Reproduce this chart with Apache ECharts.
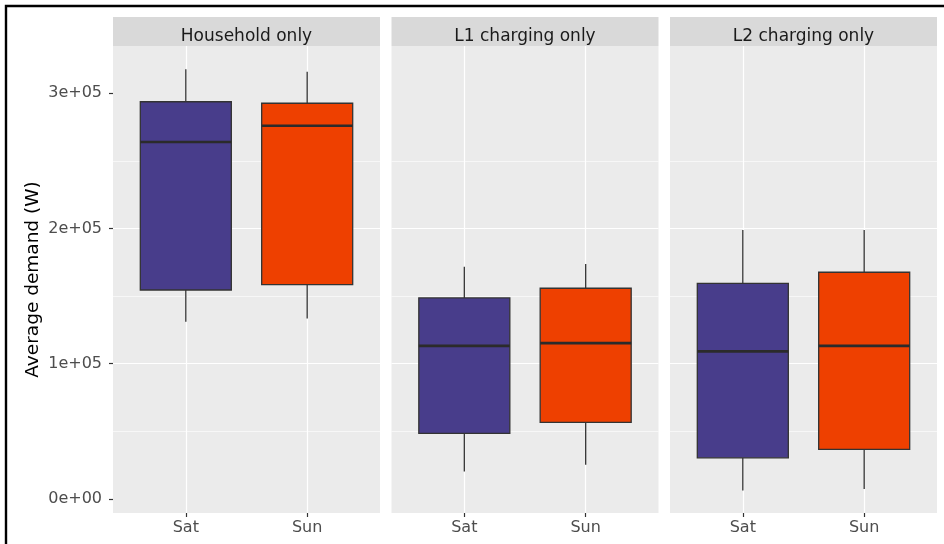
<!DOCTYPE html>
<html><head><meta charset="utf-8">
<script src="https://cdn.jsdelivr.net/npm/echarts@6/dist/echarts.min.js"></script>
<style>html,body{margin:0;padding:0;background:#fff}#c{width:944px;height:544px}</style>
</head><body><div id="c"></div>
<script>
const facets = ['Household only', 'L1 charging only', 'L2 charging only'];
const days = ['Sat', 'Sun'];
// [lower whisker, Q1, median, Q3, upper whisker]
const householdStats = [[131000, 154500, 263900, 293600, 317600], [133500, 158400, 275900, 292500, 315800]];
const l1Stats = [[20300, 48500, 113200, 148600, 171700], [25400, 56700, 115200, 155800, 173700]];
const l2Stats = [[6400, 30500, 109100, 159400, 198900], [7400, 36700, 113200, 167600, 198900]];
const yTickValues = [0, 100000, 200000, 300000];
const yTickLabels = ['0e+00', '1e+05', '2e+05', '3e+05'];
const dayColors = ['#483D8B', '#EE4000'];
const statsByFacet = [householdStats, l1Stats, l2Stats];

const FONT = 'DejaVu Sans';
const yMin = -10300, yMax = 334800;
const panelLefts = [113, 391.5, 670];
const panelWidth = 267;
const panelTop = 46, panelBottom = 513, stripTop = 17;

function renderBox(params, api) {
  const x = api.value(0);
  const lo = api.coord([x, api.value(1)]);
  const q1 = api.coord([x, api.value(2)]);
  const md = api.coord([x, api.value(3)]);
  const q3 = api.coord([x, api.value(4)]);
  const hi = api.coord([x, api.value(5)]);
  const bw = api.size([1, 0])[0] * 0.75;
  const cx = lo[0];
  const edge = { stroke: '#333333', lineWidth: 1.3 };
  return {
    type: 'group',
    children: [
      { type: 'line', shape: { x1: cx, y1: hi[1], x2: cx, y2: q3[1] }, style: edge },
      { type: 'line', shape: { x1: cx, y1: q1[1], x2: cx, y2: lo[1] }, style: edge },
      { type: 'rect', shape: { x: cx - bw / 2, y: q3[1], width: bw, height: q1[1] - q3[1] },
        style: { fill: dayColors[params.dataIndex], stroke: '#333333', lineWidth: 1.3 } },
      { type: 'line', shape: { x1: cx - bw / 2, y1: md[1], x2: cx + bw / 2, y2: md[1] },
        style: { stroke: '#2b2b2b', lineWidth: 2.6 } }
    ]
  };
}

const grid = [], xAxis = [], yAxis = [], series = [], graphic = [];
facets.forEach((facet, i) => {
  const L = panelLefts[i];
  const unit = panelWidth / 2.2;
  grid.push({ left: L, top: panelTop, width: panelWidth, height: panelBottom - panelTop,
    show: true, backgroundColor: '#EBEBEB', borderWidth: 0 });
  grid.push({ left: L + 0.6 * unit, top: panelTop, width: unit, height: panelBottom - panelTop, show: false });
  xAxis.push({ gridIndex: 2 * i, type: 'value', min: 0, max: 1, show: false });
  xAxis.push({ gridIndex: 2 * i + 1, type: 'category', data: days, boundaryGap: false, position: 'bottom',
    axisLine: { show: false, onZero: false },
    axisTick: { show: true, interval: 0, length: 4, lineStyle: { color: '#333333', width: 1.2 } },
    axisLabel: { margin: 7, fontSize: 16, color: '#4D4D4D', fontFamily: FONT },
    splitLine: { show: true, lineStyle: { color: '#FFFFFF', width: 1.2 } } });
  yAxis.push({ gridIndex: 2 * i, type: 'value', min: yMin, max: yMax, splitNumber: 3,
    axisLine: { show: false },
    axisTick: { show: i === 0, length: 4, customValues: yTickValues, lineStyle: { color: '#333333', width: 1.2 } },
    axisLabel: { show: i === 0, customValues: yTickValues, margin: 11,
      formatter: v => yTickLabels[yTickValues.indexOf(v)] || '',
      fontSize: 16, color: '#4D4D4D', fontFamily: FONT },
    splitLine: { show: true, showMinLine: false, showMaxLine: false, lineStyle: { color: '#FFFFFF', width: 1.2 } },
    minorTick: { show: false, splitNumber: 2 },
    minorSplitLine: { show: true, lineStyle: { color: '#FFFFFF', width: 0.6 } },
    name: i === 0 ? 'Average demand (W)' : '', nameLocation: 'middle', nameGap: 70,
    nameTextStyle: { fontSize: 18.5, color: '#000000', fontFamily: FONT } });
  yAxis.push({ gridIndex: 2 * i + 1, type: 'value', min: yMin, max: yMax, show: false, splitLine: { show: false } });
  series.push({ type: 'custom', xAxisIndex: 2 * i + 1, yAxisIndex: 2 * i + 1, z: 3,
    data: statsByFacet[i].map((s, j) => [j].concat(s)),
    encode: { x: 0, y: [1, 2, 3, 4, 5] }, renderItem: renderBox });
  graphic.push({ type: 'rect', silent: true, shape: { x: L, y: stripTop, width: panelWidth, height: panelTop - stripTop },
    style: { fill: '#D9D9D9' } });
  graphic.push({ type: 'text', silent: true, x: L + panelWidth / 2, y: 36.5,
    style: { text: facet, fill: '#1A1A1A', font: '17px "DejaVu Sans"', align: 'center', verticalAlign: 'middle' } });
});
graphic.push({ type: 'rect', silent: true, z: 100, shape: { x: 6, y: 6, width: 980, height: 580 },
  style: { fill: null, stroke: '#000000', lineWidth: 2.4 } });

const chart = echarts.init(document.getElementById('c'), null, { renderer: 'canvas' });
chart.setOption({ backgroundColor: '#FFFFFF', animation: false, grid, xAxis, yAxis, series, graphic });
</script></body></html>
